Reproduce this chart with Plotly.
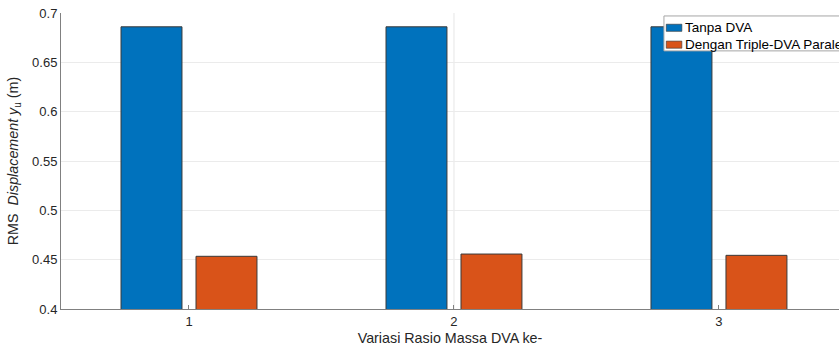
import plotly.graph_objects as go

# Data
categories = [1, 2, 3]
series_names = ["Tanpa DVA", "Dengan Triple-DVA Paralel"]
rms_tanpa = [0.686, 0.686, 0.686]
rms_triple = [0.4534, 0.4557, 0.4544]
series_colors = ["#0072BD", "#D95319"]
y_ticks = [0.4, 0.45, 0.5, 0.55, 0.6, 0.65, 0.7]
y_ticktext = ["0.4", "0.45", "0.5", "0.55", "0.6", "0.65", "0.7"]

FONT = "Liberation Sans, Arial, sans-serif"
TEXT = "#262626"

fig = go.Figure()
for name, vals, col in zip(series_names, [rms_tanpa, rms_triple], series_colors):
    fig.add_trace(go.Bar(
        x=categories, y=vals, name=name,
        marker=dict(color=col, line=dict(color="#3a3a3a", width=1)),
        showlegend=False,
    ))

# faint vertical guide at the middle category
fig.add_shape(type="line", xref="x", yref="paper", x0=2, x1=2, y0=0, y1=1,
              line=dict(color="#e6e6e6", width=1), layer="below")

# legend box drawn in paper coordinates
lx0, ly1, lh = 0.775, 0.99, 0.118
fig.add_shape(type="rect", xref="paper", yref="paper",
              x0=lx0, x1=1.3, y0=ly1 - lh, y1=ly1,
              line=dict(color="#a6a6a6", width=1), fillcolor="white", layer="above")
row_y = [ly1 - 0.040, ly1 - 0.097]
for name, col, ry in zip(series_names, series_colors, row_y):
    fig.add_shape(type="rect", xref="paper", yref="paper",
                  x0=lx0 + 0.003, x1=lx0 + 0.023, y0=ry - 0.012, y1=ry + 0.012,
                  line=dict(color="#333333", width=0.6), fillcolor=col, layer="above")
    fig.add_annotation(xref="paper", yref="paper", x=lx0 + 0.024, y=ry,
                       xanchor="left", yanchor="middle", showarrow=False,
                       text=name, font=dict(family=FONT, size=13.5, color="#000000"))

fig.update_layout(
    width=839, height=349,
    margin=dict(l=61, r=0, t=13, b=40),
    paper_bgcolor="white", plot_bgcolor="white",
    barmode="group", bargap=0.434, bargroupgap=0.187,
    font=dict(family=FONT, size=13, color=TEXT),
)
fig.update_xaxes(
    range=[0.517, 3.453], tickvals=categories, ticktext=[str(c) for c in categories],
    showgrid=False, zeroline=False, showline=True, linecolor="#808080", linewidth=1,
    ticks="inside", ticklen=4, tickcolor="#808080",
    tickfont=dict(family=FONT, size=13, color=TEXT),
    title=dict(text="Variasi Rasio Massa DVA ke-", standoff=5,
               font=dict(family=FONT, size=14.3, color=TEXT)),
)
fig.update_yaxes(
    range=[0.4, 0.7], tickvals=y_ticks, ticktext=y_ticktext,
    showgrid=True, gridcolor="#ebebeb", gridwidth=1, zeroline=False,
    showline=True, linecolor="#808080", linewidth=1,
    ticks="", tickfont=dict(family=FONT, size=13, color=TEXT),
    title=dict(text="RMS  <i>Displacement y</i><sub>u</sub> (m)", standoff=10,
               font=dict(family=FONT, size=14.3, color=TEXT)),
)

fig.write_html("out.html")
